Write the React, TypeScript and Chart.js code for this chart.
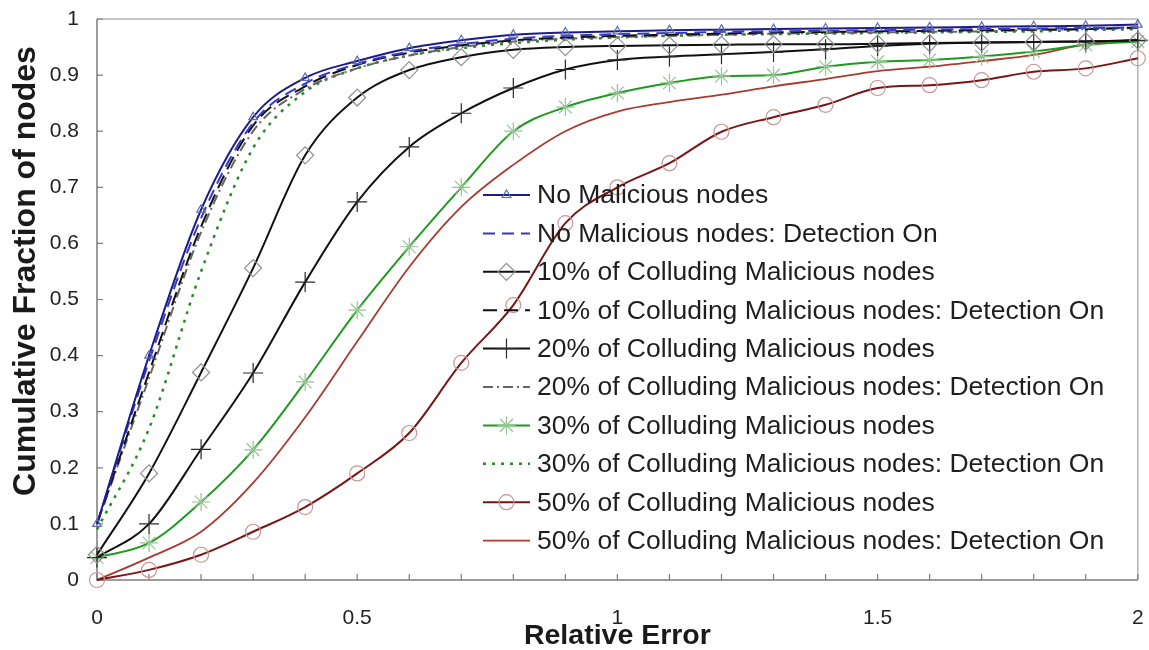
import React, { useEffect, useRef } from 'react';
import { Chart, registerables } from 'chart.js';
import { drawPoint } from 'chart.js/helpers';

Chart.register(...registerables);

// ---------- data ----------
const xValues = [0, 0.1, 0.2, 0.3, 0.4, 0.5, 0.6, 0.7, 0.8, 0.9, 1.0, 1.1, 1.2, 1.3, 1.4, 1.5, 1.6, 1.7, 1.8, 1.9, 2.0];

const seriesLabels = [
  'No Malicious nodes',
  'No Malicious nodes: Detection On',
  '10% of Colluding Malicious nodes',
  '10% of Colluding Malicious nodes: Detection On',
  '20% of Colluding Malicious nodes',
  '20% of Colluding Malicious nodes: Detection On',
  '30% of Colluding Malicious nodes',
  '30% of Colluding Malicious nodes: Detection On',
  '50% of Colluding Malicious nodes',
  '50% of Colluding Malicious nodes: Detection On',
];

const noMalicious = [0.10, 0.40, 0.66, 0.825, 0.895, 0.925, 0.948, 0.962, 0.972, 0.976, 0.978, 0.980, 0.981, 0.982, 0.983, 0.984, 0.985, 0.986, 0.987, 0.988, 0.990];
const noMaliciousDetect = [0.10, 0.39, 0.645, 0.815, 0.885, 0.920, 0.942, 0.955, 0.965, 0.970, 0.973, 0.975, 0.977, 0.978, 0.979, 0.980, 0.981, 0.982, 0.983, 0.984, 0.985];
const colluding10 = [0.045, 0.19, 0.37, 0.556, 0.757, 0.86, 0.909, 0.932, 0.945, 0.950, 0.952, 0.953, 0.954, 0.955, 0.955, 0.956, 0.957, 0.958, 0.959, 0.960, 0.962];
const colluding10Detect = [0.10, 0.37, 0.63, 0.81, 0.88, 0.918, 0.940, 0.953, 0.962, 0.967, 0.970, 0.972, 0.974, 0.976, 0.977, 0.978, 0.979, 0.980, 0.981, 0.982, 0.985];
const colluding20 = [0.04, 0.10, 0.233, 0.369, 0.531, 0.674, 0.772, 0.832, 0.877, 0.910, 0.927, 0.933, 0.937, 0.941, 0.946, 0.952, 0.956, 0.958, 0.959, 0.960, 0.962];
const colluding20Detect = [0.10, 0.36, 0.62, 0.80, 0.875, 0.912, 0.935, 0.950, 0.960, 0.965, 0.968, 0.970, 0.972, 0.974, 0.975, 0.976, 0.977, 0.978, 0.980, 0.982, 0.984];
const colluding30 = [0.04, 0.066, 0.139, 0.232, 0.353, 0.481, 0.594, 0.700, 0.800, 0.843, 0.868, 0.886, 0.898, 0.900, 0.915, 0.924, 0.927, 0.933, 0.942, 0.954, 0.960];
const colluding30Detect = [0.09, 0.27, 0.55, 0.77, 0.87, 0.912, 0.935, 0.948, 0.957, 0.963, 0.967, 0.970, 0.972, 0.973, 0.974, 0.975, 0.976, 0.977, 0.978, 0.980, 0.982];
const colluding50 = [0.0, 0.018, 0.045, 0.086, 0.13, 0.19, 0.262, 0.387, 0.49, 0.636, 0.700, 0.743, 0.799, 0.825, 0.847, 0.877, 0.882, 0.891, 0.906, 0.912, 0.930];
const colluding50Detect = [0.0, 0.04, 0.086, 0.173, 0.29, 0.425, 0.558, 0.665, 0.740, 0.800, 0.835, 0.852, 0.865, 0.880, 0.893, 0.907, 0.915, 0.925, 0.936, 0.955, 0.963];

const allSeries = [
  noMalicious, noMaliciousDetect, colluding10, colluding10Detect, colluding20,
  colluding20Detect, colluding30, colluding30Detect, colluding50, colluding50Detect,
];

const xTickLabels = ['0', '0.5', '1', '1.5', '2'];
const xAxisTitle = 'Relative Error';
const yAxisTitle = 'Cumulative Fraction of nodes';

// ---------- styles ----------
const FONT = '"Liberation Sans", Arial, Helvetica, sans-serif';

type SeriesStyle = {
  color: string;
  width: number;
  dash: number[];
  marker: string | false;
  markerColor: string;
  markerRadius: number;
};

const styles: SeriesStyle[] = [
  { color: '#1c1c8a', width: 2, dash: [], marker: 'triangle', markerColor: '#5d6cb0', markerRadius: 5 },
  { color: '#3636c8', width: 2, dash: [12, 7], marker: false, markerColor: '', markerRadius: 0 },
  { color: '#111111', width: 2, dash: [], marker: 'rectRot', markerColor: '#8e8e8e', markerRadius: 8.5 },
  { color: '#111111', width: 2, dash: [14, 7], marker: false, markerColor: '', markerRadius: 0 },
  { color: '#111111', width: 2, dash: [], marker: 'cross', markerColor: '#2a2a2a', markerRadius: 10 },
  { color: '#666666', width: 2, dash: [10, 4, 2, 4], marker: false, markerColor: '', markerRadius: 0 },
  { color: '#1e9a1e', width: 2, dash: [], marker: 'star', markerColor: '#93c493', markerRadius: 9 },
  { color: '#2a8a2a', width: 2.5, dash: [3, 6], marker: false, markerColor: '', markerRadius: 0 },
  { color: '#7a1515', width: 2, dash: [], marker: 'circle', markerColor: '#c89696', markerRadius: 7.5 },
  { color: '#a83a30', width: 1.8, dash: [], marker: false, markerColor: '', markerRadius: 0 },
];

const LEGEND_LINE_LEFT = 483;
const LEGEND_LINE_RIGHT = 530;
const LEGEND_TEXT_X = 537;
const LEGEND_FIRST_Y = 195;
const LEGEND_ROW = 38.4;
const Y_TITLE_X = 26;
const Y_TITLE_CENTER = 271;

const zeroPadding = (scale: any) => {
  scale.paddingTop = 0;
  scale.paddingBottom = 0;
  scale.paddingLeft = 0;
  scale.paddingRight = 0;
};

const decorPlugin = {
  id: 'decor',
  beforeDatasetsDraw(chart: any) {
    const { ctx, chartArea: a, scales } = chart;
    const xs = scales.x;
    const ys = scales.y;
    ctx.save();
    ctx.setLineDash([]);
    ctx.lineWidth = 1.5;
    ctx.strokeStyle = '#b4b4b4';
    ctx.beginPath();
    ctx.moveTo(a.left, a.top);
    ctx.lineTo(a.right, a.top);
    ctx.lineTo(a.right, a.bottom);
    ctx.stroke();
    ctx.strokeStyle = '#7c7c7c';
    ctx.beginPath();
    ctx.moveTo(a.left, a.top);
    ctx.lineTo(a.left, a.bottom);
    ctx.lineTo(a.right, a.bottom);
    ctx.stroke();
    ctx.lineWidth = 1.2;
    ctx.beginPath();
    xs.ticks.forEach((t: any) => {
      const px = xs.getPixelForValue(t.value);
      ctx.moveTo(px, a.bottom);
      ctx.lineTo(px, a.bottom - 6);
    });
    ys.ticks.forEach((t: any) => {
      const py = ys.getPixelForValue(t.value);
      ctx.moveTo(a.left, py);
      ctx.lineTo(a.left + 6, py);
    });
    ctx.stroke();

    // y axis title
    ctx.translate(Y_TITLE_X, Y_TITLE_CENTER);
    ctx.rotate(-Math.PI / 2);
    ctx.fillStyle = '#1a1a1a';
    ctx.font = `bold 32px ${FONT}`;
    ctx.textAlign = 'center';
    ctx.textBaseline = 'middle';
    ctx.fillText(yAxisTitle, 0, 0);
    ctx.restore();
  },
  afterDatasetsDraw(chart: any) {
    const { ctx } = chart;
    ctx.save();
    chart.data.datasets.forEach((ds: any, i: number) => {
      const st = styles[i];
      const y = LEGEND_FIRST_Y + i * LEGEND_ROW;
      ctx.strokeStyle = st.color;
      ctx.lineWidth = st.width;
      ctx.setLineDash(st.dash);
      ctx.beginPath();
      ctx.moveTo(LEGEND_LINE_LEFT, y);
      ctx.lineTo(LEGEND_LINE_RIGHT, y);
      ctx.stroke();
      ctx.setLineDash([]);
      if (st.marker) {
        ctx.strokeStyle = st.markerColor;
        ctx.fillStyle = 'rgba(0,0,0,0)';
        ctx.lineWidth = 1.2;
        drawPoint(ctx, { pointStyle: st.marker as any, radius: st.markerRadius, rotation: 0, borderWidth: 1.2 } as any,
          (LEGEND_LINE_LEFT + LEGEND_LINE_RIGHT) / 2, y);
      }
      ctx.fillStyle = '#1e1e1e';
      ctx.font = `26.5px ${FONT}`;
      ctx.textBaseline = 'middle';
      ctx.textAlign = 'left';
      ctx.fillText(ds.label, LEGEND_TEXT_X, y + 1);
    });
    ctx.restore();
  },
};

export default function App() {
  const canvasRef = useRef<HTMLCanvasElement | null>(null);

  useEffect(() => {
    if (!canvasRef.current) return;
    const datasets = allSeries.map((vals, i) => {
      const st = styles[i];
      return {
        label: seriesLabels[i],
        data: vals.map((v, j) => ({ x: xValues[j], y: v })),
        borderColor: st.color,
        borderWidth: st.width,
        borderDash: st.dash,
        backgroundColor: 'rgba(0,0,0,0)',
        fill: false,
        cubicInterpolationMode: 'monotone' as const,
        pointStyle: st.marker || 'circle',
        pointRadius: st.marker ? st.markerRadius : 0,
        pointBorderColor: st.markerColor || st.color,
        pointBackgroundColor: 'rgba(0,0,0,0)',
        pointBorderWidth: 1.2,
        clip: false as any,
      };
    });

    const chart = new Chart(canvasRef.current, {
      type: 'line',
      data: { datasets },
      plugins: [decorPlugin],
      options: {
        animation: false,
        responsive: false,
        maintainAspectRatio: false,
        layout: { padding: { top: 19, right: 9, left: 0, bottom: 0 } },
        plugins: { legend: { display: false }, tooltip: { enabled: false } },
        scales: {
          x: {
            type: 'linear',
            min: 0,
            max: 2,
            grid: { display: false, drawTicks: false },
            border: { display: false },
            ticks: {
              stepSize: 0.1,
              autoSkip: false,
              maxRotation: 0,
              padding: 26,
              color: '#222',
              font: { family: FONT, size: 21 },
              callback: (v: any) => {
                const n = Number(v);
                const k = Math.round(n * 2);
                if (Math.abs(n * 2 - k) > 1e-6) return '';
                return xTickLabels[k] ?? '';
              },
            },
            title: {
              display: true,
              text: xAxisTitle,
              color: '#1a1a1a',
              font: { family: FONT, size: 28.5, weight: 'bold', lineHeight: 1 },
              padding: 0,
            },
            afterFit: (scale: any) => { scale.height = 70; zeroPadding(scale); },
          },
          y: {
            type: 'linear',
            min: 0,
            max: 1,
            grid: { display: false, drawTicks: false },
            border: { display: false },
            ticks: {
              stepSize: 0.1,
              padding: 18,
              color: '#222',
              font: { family: FONT, size: 21 },
              callback: (v: any) => String(Number(Number(v).toFixed(1))),
            },
            title: { display: false },
            afterFit: (scale: any) => { scale.width = 97; zeroPadding(scale); },
          },
        },
      } as any,
    });
    return () => chart.destroy();
  }, []);

  return (
    <div style={{ position: 'absolute', left: 0, top: 0, width: 1149, height: 650, background: '#fff' }}>
      <canvas ref={canvasRef} width={1149} height={650} />
    </div>
  );
}
